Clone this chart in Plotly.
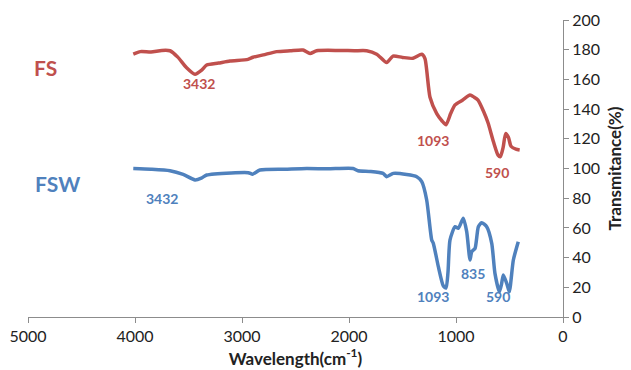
import plotly.graph_objects as go

# FS (red) spectrum
fs_x = [4016, 3950, 3850, 3750, 3673, 3600, 3520, 3439, 3380, 3330, 3220, 3112, 2944, 2897, 2800, 2676, 2550, 2430, 2364, 2302, 2100, 1950, 1835, 1741, 1648, 1589, 1500, 1402, 1320, 1290, 1243, 1180, 1130, 1093, 1050, 1009, 940, 869, 830, 794, 740, 700, 650, 607, 585, 560, 536, 510, 486, 440, 405]
fs_y = [177, 178.7, 178.5, 179.5, 179.3, 175, 168, 163.4, 166, 169.7, 171, 172.4, 173.5, 174.9, 176.5, 178.7, 179.3, 179.8, 177.5, 179.3, 179.5, 179.3, 179.3, 177, 171.3, 175.7, 174.8, 174.2, 177, 174, 148, 137, 132, 129.5, 137, 142.8, 146, 149.5, 148, 146, 138, 130.6, 118, 109, 108, 114, 123.5, 121, 115, 113, 112.5]

# FSW (blue) spectrum
fsw_x = [4016, 3850, 3673, 3550, 3439, 3380, 3330, 3100, 2941, 2900, 2832, 2600, 2396, 2200, 1962, 1916, 1800, 1682, 1648, 1586, 1461, 1367, 1320, 1274, 1227, 1212, 1165, 1119, 1093, 1075, 1056, 1009, 978, 932, 900, 869, 853, 822, 791, 760, 713, 666, 636, 595, 575, 558, 526, 502, 464, 418]
fsw_y = [100, 99.5, 98.5, 96, 92.3, 93.5, 95.6, 97, 97.2, 96.2, 99, 99.5, 100, 99.8, 100, 98.5, 98, 96.7, 94.5, 96.7, 96, 94.5, 91.1, 78.8, 51.9, 49.6, 33.9, 21, 19.5, 30, 51.9, 60.8, 59.7, 66.5, 57.5, 38.4, 44, 46.2, 60.8, 63.5, 60.8, 49.6, 29.4, 17, 22, 28.3, 22.7, 17, 38.4, 50.7]

# Peak labels
fs_peak_text = ["3432", "1093", "590"]
fs_peak_x = [3400, 1215, 617]
fs_peak_y = [157, 119, 97.6]
fsw_peak_text = ["3432", "1093", "835", "590"]
fsw_peak_x = [3748, 1215, 841, 607]
fsw_peak_y = [80, 13.5, 29, 13.5]

series_names = ["FS", "FSW"]
series_label_x = [4832, 4729]
series_label_y = [167.7, 90.2]

x_ticks = [5000, 4000, 3000, 2000, 1000, 0]
y_ticks = [0, 20, 40, 60, 80, 100, 120, 140, 160, 180, 200]

RED = "#C0504D"
BLUE = "#4F81BD"
FONT = "Lato, 'Open Sans', sans-serif"

fig = go.Figure()
fig.add_trace(go.Scatter(x=fs_x, y=fs_y, mode="lines", line=dict(color=RED, width=3.5, shape="spline", smoothing=0.6), showlegend=False))
fig.add_trace(go.Scatter(x=fsw_x, y=fsw_y, mode="lines", line=dict(color=BLUE, width=3.5, shape="spline", smoothing=0.6), showlegend=False))

for t, x, y in zip(fs_peak_text, fs_peak_x, fs_peak_y):
    fig.add_annotation(x=x, y=y, text=f"<b>{t}</b>", showarrow=False, font=dict(family=FONT, size=14, color=RED))
for t, x, y in zip(fsw_peak_text, fsw_peak_x, fsw_peak_y):
    fig.add_annotation(x=x, y=y, text=f"<b>{t}</b>", showarrow=False, font=dict(family=FONT, size=14, color=BLUE))
for t, x, y, c in zip(series_names, series_label_x, series_label_y, [RED, BLUE]):
    fig.add_annotation(x=x, y=y, text=f"<b>{t}</b>", showarrow=False, font=dict(family=FONT, size=21, color=c))

fig.update_layout(
    width=631, height=370,
    margin=dict(l=28, r=68, t=20, b=53),
    paper_bgcolor="white", plot_bgcolor="white",
    font=dict(family=FONT, size=16, color="#222"),
)
fig.update_xaxes(
    range=[5000, 0], tickvals=x_ticks, showgrid=False, zeroline=False, automargin=False,
    showline=True, linecolor="#8c8c8c", linewidth=1, ticks="outside", ticklen=5, tickcolor="#8c8c8c",
    tickfont=dict(size=16, family=FONT),
    title=dict(text="<b>Wavelength(cm<sup>-1</sup>)</b>", font=dict(size=17, family=FONT), standoff=8),
)
fig.update_yaxes(
    range=[0, 200], tickvals=y_ticks, side="right", showgrid=False, zeroline=False, automargin=False,
    showline=True, linecolor="#8c8c8c", linewidth=1, ticks="outside", ticklen=5, tickcolor="#8c8c8c",
    tickfont=dict(size=16, family=FONT),
    title=dict(text="<b>Transmitance(%)</b>", font=dict(size=17, family=FONT), standoff=10),
)

fig.write_html("out.html")
